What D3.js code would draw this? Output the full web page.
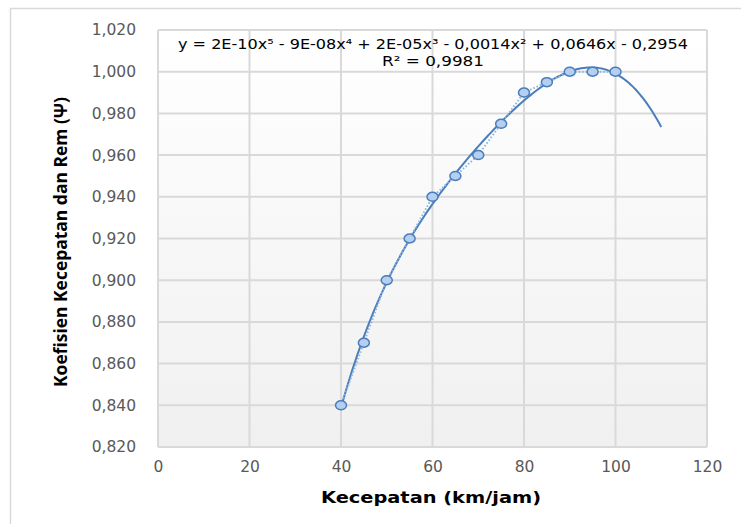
<!DOCTYPE html>
<html>
<head>
<meta charset="utf-8">
<script src="https://cdn.jsdelivr.net/npm/d3@7"></script>
<style>
  body { margin: 0; background: #fff; }
</style>
</head>
<body>
<div id="chart"></div>
<script>
// speed (km/jam) vs koefisien
var speeds = [40, 45, 50, 55, 60, 65, 70, 75, 80, 85, 90, 95, 100];
var koef = [0.840, 0.870, 0.900, 0.920, 0.940, 0.950, 0.960, 0.975, 0.990, 0.995, 1.000, 1.000, 1.000];
var x_ticks = [0, 20, 40, 60, 80, 100, 120];
var y_ticks = [0.82, 0.84, 0.86, 0.88, 0.90, 0.92, 0.94, 0.96, 0.98, 1.00, 1.02];
var trend_end = 110; // trendline forecast forward to 110
var eq_text = 'y = 2E-10x\u2075 - 9E-08x\u2074 + 2E-05x\u00B3 - 0,0014x\u00B2 + 0,0646x - 0,2954';
var r2_text = 'R\u00B2 = 0,9981';

var W = 741, H = 524;
var p_left = 158, p_right = 707, p_top = 30, p_bottom = 447;

var svg = d3.select('#chart').append('svg')
  .attr('width', W)
  .attr('height', H);

// outer chart border
svg.append('rect')
  .attr('x', 10.5).attr('y', 8.5)
  .attr('width', 900).attr('height', 700)
  .attr('fill', 'none')
  .attr('stroke', '#d9d9d9')
  .attr('stroke-width', 1.5);

var x_scale = d3.scaleLinear().domain([0, 120]).range([p_left, p_right]);
var y_scale = d3.scaleLinear().domain([0.82, 1.02]).range([p_bottom, p_top]);

// plot background gradient
var grad = svg.append('defs').append('linearGradient')
  .attr('id', 'bg').attr('x1', 0).attr('y1', 0).attr('x2', 0).attr('y2', 1);
grad.append('stop').attr('offset', '0%').attr('stop-color', '#ffffff');
grad.append('stop').attr('offset', '100%').attr('stop-color', '#f0f0f0');

svg.append('rect')
  .attr('x', p_left).attr('y', p_top)
  .attr('width', p_right - p_left).attr('height', p_bottom - p_top)
  .attr('fill', 'url(#bg)');

// gridlines
svg.selectAll('.vgrid')
  .data(x_ticks)
  .enter()
  .append('line')
  .attr('x1', function(d) { return x_scale(d); })
  .attr('x2', function(d) { return x_scale(d); })
  .attr('y1', p_top).attr('y2', p_bottom)
  .attr('stroke', '#d9d9d9').attr('stroke-width', 2);

svg.selectAll('.hgrid')
  .data(y_ticks)
  .enter()
  .append('line')
  .attr('y1', function(d) { return y_scale(d); })
  .attr('y2', function(d) { return y_scale(d); })
  .attr('x1', p_left).attr('x2', p_right)
  .attr('stroke', '#d9d9d9').attr('stroke-width', 2);

// axes (labels only)
var fmt = function(d) { return d3.format('.3f')(d).replace('.', ','); };

var xAxis = svg.append('g')
  .attr('transform', 'translate(0,' + (p_bottom + 8) + ')')
  .call(d3.axisBottom(x_scale).tickValues(x_ticks).tickSize(0).tickPadding(6));
var yAxis = svg.append('g')
  .attr('transform', 'translate(' + (p_left - 22) + ',0)')
  .call(d3.axisLeft(y_scale).tickValues(y_ticks).tickSize(0).tickPadding(0).tickFormat(fmt));
[xAxis, yAxis].forEach(function(ax) {
  ax.select('.domain').remove();
  ax.selectAll('text')
    .attr('fill', '#595959')
    .style('font-family', 'DejaVu Sans')
    .style('font-size', '15.5px');
});

// polynomial trendline (order 5, least squares on the data)
function polyfit(xs, ys, deg) {
  var n = deg + 1;
  var A = [], b = [];
  for (var i = 0; i < n; i++) {
    A.push([]);
    for (var j = 0; j < n; j++) {
      A[i].push(d3.sum(xs, function(x) { return Math.pow(x, i + j); }));
    }
    b.push(d3.sum(xs, function(x, k) { return ys[k] * Math.pow(x, i); }));
  }
  for (var c = 0; c < n; c++) {
    var p = c;
    for (var r = c + 1; r < n; r++) if (Math.abs(A[r][c]) > Math.abs(A[p][c])) p = r;
    var t = A[c]; A[c] = A[p]; A[p] = t;
    var tb = b[c]; b[c] = b[p]; b[p] = tb;
    for (var r2 = c + 1; r2 < n; r2++) {
      var f = A[r2][c] / A[c][c];
      for (var k = c; k < n; k++) A[r2][k] -= f * A[c][k];
      b[r2] -= f * b[c];
    }
  }
  var coef = new Array(n);
  for (var i2 = n - 1; i2 >= 0; i2--) {
    var s = b[i2];
    for (var j2 = i2 + 1; j2 < n; j2++) s -= A[i2][j2] * coef[j2];
    coef[i2] = s / A[i2][i2];
  }
  return coef;
}
var xs = speeds.map(function(d) { return d / 100; });
var coef = polyfit(xs, koef, 5);
var trend = d3.range(speeds[0], trend_end + 0.01, 0.5).map(function(x) {
  var u = x / 100, v = 0;
  for (var i = coef.length - 1; i >= 0; i--) v = v * u + coef[i];
  return [x, v];
});

svg.append('path')
  .datum(trend)
  .attr('d', d3.line()
    .x(function(d) { return x_scale(d[0]); })
    .y(function(d) { return y_scale(d[1]); }))
  .attr('fill', 'none')
  .attr('stroke', '#4a7ebb')
  .attr('stroke-width', 2);

// dotted series line
var pts = speeds.map(function(s, i) { return [s, koef[i]]; });
svg.append('path')
  .datum(pts)
  .attr('d', d3.line()
    .x(function(d) { return x_scale(d[0]); })
    .y(function(d) { return y_scale(d[1]); }))
  .attr('fill', 'none')
  .attr('stroke', '#8db4e2')
  .attr('stroke-width', 2)
  .attr('stroke-dasharray', '1.5,2');

// markers
svg.selectAll('.pt')
  .data(pts)
  .enter()
  .append('ellipse')
  .attr('cx', function(d) { return x_scale(d[0]); })
  .attr('cy', function(d) { return y_scale(d[1]); })
  .attr('rx', 5.5).attr('ry', 4.5)
  .attr('fill', '#b4cff0')
  .attr('stroke', '#4a7ebb')
  .attr('stroke-width', 1.5);

// trendline label
svg.append('text')
  .attr('x', 433).attr('y', 49)
  .attr('text-anchor', 'middle')
  .attr('textLength', 510)
  .attr('lengthAdjust', 'spacingAndGlyphs')
  .style('font-family', 'DejaVu Sans')
  .style('font-size', '14px')
  .attr('fill', '#000')
  .text(eq_text);
svg.append('text')
  .attr('x', 433).attr('y', 66)
  .attr('text-anchor', 'middle')
  .attr('textLength', 102)
  .attr('lengthAdjust', 'spacingAndGlyphs')
  .style('font-family', 'DejaVu Sans')
  .style('font-size', '14px')
  .attr('fill', '#000')
  .text(r2_text);

// axis titles
svg.append('text')
  .attr('x', 431).attr('y', 503)
  .attr('text-anchor', 'middle')
  .attr('textLength', 220)
  .attr('lengthAdjust', 'spacingAndGlyphs')
  .style('font-family', 'DejaVu Sans')
  .style('font-weight', 'bold')
  .style('font-size', '16px')
  .text('Kecepatan (km/jam)');

svg.append('text')
  .attr('transform', 'translate(67,242) rotate(-90)')
  .attr('text-anchor', 'middle')
  .attr('textLength', 290)
  .attr('lengthAdjust', 'spacingAndGlyphs')
  .style('font-family', 'Open Sans')
  .style('font-weight', 'bold')
  .style('font-size', '17px')
  .text('Koefisien Kecepatan dan Rem (\u03A8)');
</script>
</body>
</html>
